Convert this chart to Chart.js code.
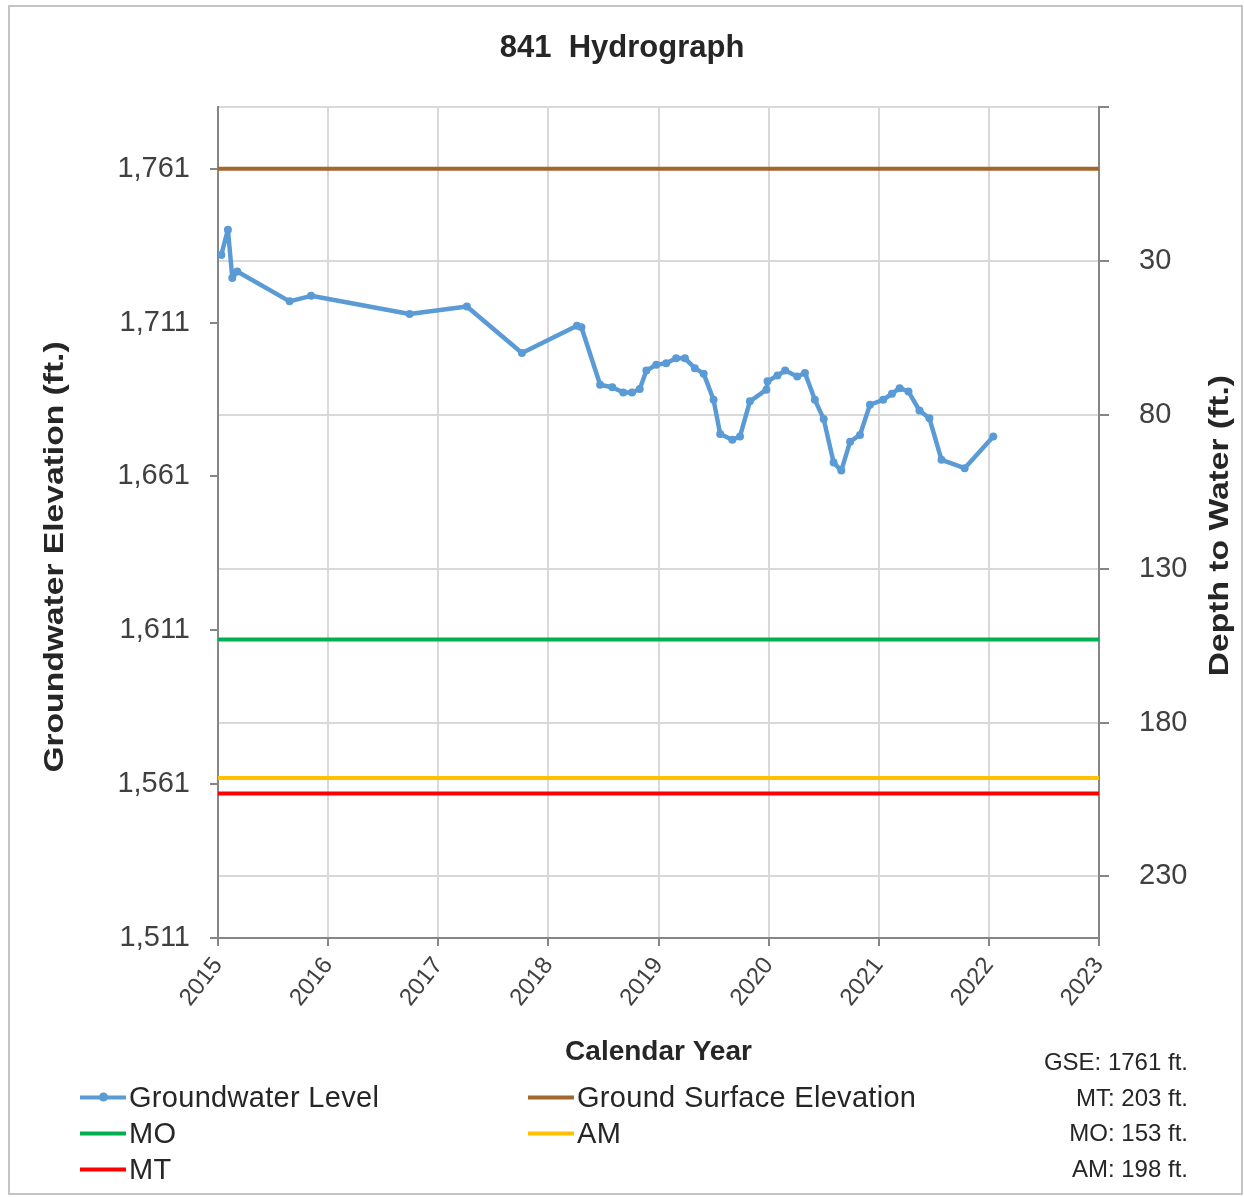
<!DOCTYPE html>
<html>
<head>
<meta charset="utf-8">
<title>841 Hydrograph</title>
<script src="https://cdn.jsdelivr.net/npm/chart.js@4.4.1/dist/chart.umd.min.js"></script>
<style>
  body { margin: 0; background: #fff; }
  #wrap { position: relative; width: 1244px; height: 1197px; font-family: 'Liberation Sans', Arial, sans-serif; color: #262626; }
  #frame { position: absolute; left: 8px; top: 5px; width: 1235px; height: 1190px; border: 2px solid #c4c4c4; box-sizing: border-box; pointer-events: none; }
  canvas { position: absolute; left: 0; top: 0; }
  .lg { position: absolute; font-size: 29px; line-height: 1; display: flex; align-items: center; transform: translateY(-50%); white-space: nowrap; letter-spacing: 0.3px; }
  .sw { width: 46px; height: 4px; margin-right: 3px; position: relative; }
  .sw i { position: absolute; left: 19px; top: -3px; width: 9px; height: 9px; border-radius: 50%; background: inherit; }
  .note { position: absolute; right: 56px; font-size: 24px; line-height: 1; transform: translateY(-50%); white-space: nowrap; }
</style>
</head>
<body>
<div id="wrap">
  <canvas id="hydro" width="1244" height="1197"></canvas>
  <div id="legend"></div>
  <div id="frame"></div>
</div>
<script>
// groundwater level readings (decimal year, elevation ft)
const gwlYears = [2015.03, 2015.09, 2015.13, 2015.175, 2015.65, 2015.845, 2016.74, 2017.26, 2017.76,
  2018.26, 2018.30, 2018.47, 2018.58, 2018.68, 2018.76, 2018.83, 2018.89, 2018.98,
  2019.07, 2019.16, 2019.24, 2019.33, 2019.41, 2019.50, 2019.56, 2019.67, 2019.74, 2019.83, 2019.98, 2019.99,
  2020.08, 2020.15, 2020.26, 2020.33, 2020.42, 2020.50, 2020.59, 2020.66, 2020.74, 2020.83, 2020.92,
  2021.04, 2021.12, 2021.19, 2021.27, 2021.37, 2021.46, 2021.57, 2021.78, 2022.04];
const gwlElev = [1733.0, 1741.2, 1725.5, 1727.6, 1717.9, 1719.7, 1713.8, 1716.2, 1701.1,
  1710.0, 1709.5, 1690.8, 1690.0, 1688.3, 1688.3, 1689.4, 1695.4, 1697.3,
  1697.8, 1699.4, 1699.4, 1696.2, 1694.4, 1685.9, 1674.8, 1672.9, 1674.0, 1685.4, 1689.2, 1691.9,
  1693.8, 1695.4, 1693.5, 1694.6, 1685.9, 1679.7, 1665.5, 1662.9, 1672.3, 1674.5, 1684.3,
  1685.9, 1687.9, 1689.7, 1688.6, 1682.4, 1679.9, 1666.4, 1663.7, 1674.0];

// reference levels
const gse = 1761;      // ground surface elevation
const mtDepth = 203;   // minimum threshold
const moDepth = 153;   // measurable objective
const amDepth = 198;   // action level
const lineYears = [2015, 2023];

// axes
const yearTicks = [2015, 2016, 2017, 2018, 2019, 2020, 2021, 2022, 2023];
const elevTicks = [1511, 1561, 1611, 1661, 1711, 1761];
const depthTicks = [-20, 30, 80, 130, 180, 230];
const elevMin = 1511, elevMax = 1781;

const colors = {
  gwl: "#5b9bd5",
  gse: "#a2662f",
  mo: "#00b050",
  am: "#ffc000",
  mt: "#ff0000",
  grid: "#d9d9d9",
  axis: "#868686",
  text: "#404040",
};

Chart.defaults.font.family = "'Liberation Sans', Arial, sans-serif";
Chart.defaults.color = colors.text;

const flatLine = (label, elev, color) => ({
  label: label,
  data: lineYears.map(x => ({ x: x, y: elev })),
  borderColor: color,
  backgroundColor: color,
  borderWidth: 4,
  pointRadius: 0,
  yAxisID: "y",
});

// rotated y-axis titles (the right one reads bottom-to-top like the left)
const sideTitles = {
  id: "sideTitles",
  afterDraw(chart) {
    const ctx = chart.ctx;
    const area = chart.chartArea;
    const draw = (text, x, y) => {
      ctx.save();
      ctx.translate(x, y);
      ctx.rotate(-Math.PI / 2);
      ctx.scale(1.2, 1);
      ctx.font = "bold 28px 'Liberation Sans', Arial, sans-serif";
      ctx.fillStyle = "#262626";
      ctx.textAlign = "center";
      ctx.textBaseline = "middle";
      ctx.fillText(text, 0, 0);
      ctx.restore();
    };
    draw("Groundwater Elevation (ft.)", 55, 557);
    draw("Depth to Water (ft.)", 1220, (area.top + area.bottom) / 2 + 3);
  },
};

new Chart(document.getElementById("hydro").getContext("2d"), {
  type: "line",
  data: {
    datasets: [
      {
        label: "Groundwater Level",
        data: gwlYears.map((x, i) => ({ x: x, y: gwlElev[i] })),
        borderColor: colors.gwl,
        backgroundColor: colors.gwl,
        borderWidth: 4.5,
        borderJoinStyle: "round",
        borderCapStyle: "round",
        pointRadius: 4,
        pointBorderWidth: 0,
        tension: 0,
        yAxisID: "y",
      },
      flatLine("Ground Surface Elevation", gse, colors.gse),
      flatLine("MO", gse - moDepth, colors.mo),
      flatLine("AM", gse - amDepth, colors.am),
      flatLine("MT", gse - mtDepth, colors.mt),
    ],
  },
  options: {
    responsive: false,
    animation: false,
    layout: { padding: 0 },
    plugins: {
      legend: { display: false },
      tooltip: { enabled: false },
      title: {
        display: true,
        text: "841  Hydrograph",
        color: "#262626",
        font: { size: 31, weight: "bold" },
        padding: { top: 30, bottom: 40 },
      },
    },
    scales: {
      x: {
        type: "linear",
        min: yearTicks[0],
        max: yearTicks[yearTicks.length - 1],
        afterBuildTicks: s => { s.ticks = yearTicks.map(v => ({ value: v })); },
        afterFit: s => { s.height = 259; },
        ticks: {
          font: { size: 24 },
          minRotation: 52,
          maxRotation: 52,
          padding: 6,
          autoSkip: false,
          callback: v => String(v),
        },
        grid: { color: colors.grid, lineWidth: 2, tickColor: colors.axis, tickLength: 8 },
        border: { color: colors.axis, width: 2 },
        title: {
          display: true,
          text: "Calendar Year",
          color: "#262626",
          font: { size: 28, weight: "bold" },
          padding: { top: 0, bottom: 128 },
        },
      },
      y: {
        position: "left",
        min: elevMin,
        max: elevMax,
        afterBuildTicks: s => { s.ticks = elevTicks.map(v => ({ value: v })); },
        afterFit: s => { s.width = 218; },
        ticks: {
          font: { size: 29 },
          padding: 20,
          callback: v => v.toLocaleString("en-US"),
        },
        grid: { drawOnChartArea: false, tickColor: colors.axis, tickLength: 8, lineWidth: 2 },
        border: { color: colors.axis, width: 2 },
      },
      y2: {
        position: "right",
        reverse: true,
        min: gse - elevMax,
        max: gse - elevMin,
        afterBuildTicks: s => { s.ticks = depthTicks.map(v => ({ value: v })); },
        afterFit: s => { s.width = 145; },
        ticks: {
          font: { size: 29 },
          padding: 30,
          callback: v => (v < 0 ? "" : String(v)),
        },
        grid: { color: colors.grid, lineWidth: 2, tickColor: colors.axis, tickLength: 10 },
        border: { color: colors.axis, width: 2 },
      },
    },
  },
  plugins: [sideTitles],
});

// legend and reference notes
const legendItems = [
  { text: "Groundwater Level", color: colors.gwl, marker: true, x: 80, y: 1097 },
  { text: "Ground Surface Elevation", color: colors.gse, x: 528, y: 1097 },
  { text: "MO", color: colors.mo, x: 80, y: 1133 },
  { text: "AM", color: colors.am, x: 528, y: 1133 },
  { text: "MT", color: colors.mt, x: 80, y: 1169 },
];
const notes = [
  { text: "GSE: " + gse + " ft.", y: 1062 },
  { text: "MT: " + mtDepth + " ft.", y: 1098 },
  { text: "MO: " + moDepth + " ft.", y: 1133 },
  { text: "AM: " + amDepth + " ft.", y: 1169 },
];
const legendEl = document.getElementById("legend");
legendItems.forEach(it => {
  const d = document.createElement("div");
  d.className = "lg";
  d.style.left = it.x + "px";
  d.style.top = it.y + "px";
  d.innerHTML = '<span class="sw" style="background:' + it.color + '">' + (it.marker ? "<i></i>" : "") + "</span>" + it.text;
  legendEl.appendChild(d);
});
notes.forEach(n => {
  const d = document.createElement("div");
  d.className = "note";
  d.style.top = n.y + "px";
  d.textContent = n.text;
  legendEl.appendChild(d);
});
</script>
</body>
</html>
